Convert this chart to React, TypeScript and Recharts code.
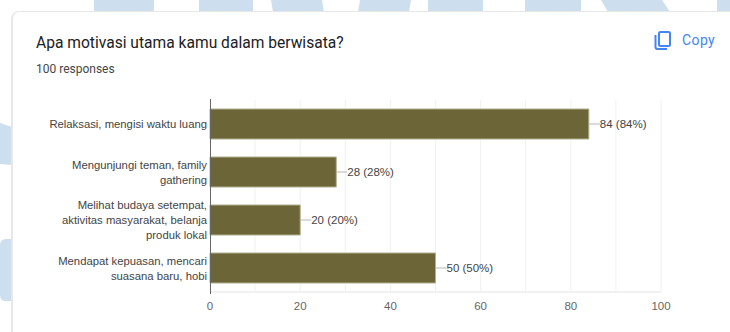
import React from 'react';
import { Bar, BarChart, CartesianGrid, LabelList, XAxis, YAxis } from 'recharts';

const categories = [
  'Relaksasi, mengisi waktu luang',
  'Mengunjungi teman, family\ngathering',
  'Melihat budaya setempat,\naktivitas masyarakat, belanja\nproduk lokal',
  'Mendapat kepuasan, mencari\nsuasana baru, hobi',
];
const counts = [84, 28, 20, 50];
const percents = ['84%', '28%', '20%', '50%'];
const xTicks = [0, 20, 40, 60, 80, 100];
const gridLines = [10, 20, 30, 40, 50, 60, 70, 80, 90, 100];

const data = categories.map((name, i) => ({ name, count: counts[i], label: `${counts[i]} (${percents[i]})` }));

const CHART_FONT = '"Liberation Sans", Arial, sans-serif';
const BLUE = '#cddfee';

const CategoryTick = ({ y, payload }: any) => {
  const lines = String(payload.value).split('\n');
  const startY = y - ((lines.length - 1) * 15) / 2 + 4;
  return (
    <text x={207} y={startY} textAnchor="end" fontSize={11.3} fontFamily={CHART_FONT} fill="#444444">
      {lines.map((line, i) => (
        <tspan key={line} x={207} y={startY + i * 15}>{line}</tspan>
      ))}
    </text>
  );
};

// leader line from the bar end, followed by "count (percent)"
const BarLabel = ({ x, y, width, height, value }: any) => {
  const endX = x + width;
  const midY = y + height / 2;
  return (
    <g>
      <line x1={endX} x2={endX + 11} y1={midY} y2={midY} stroke="#b5b5b5" strokeWidth={1} />
      <text x={endX + 11} y={midY + 4} fontSize={11.5} fontFamily={CHART_FONT} fill="#444444">{value}</text>
    </g>
  );
};

// page backdrop: pale blue shapes showing around the card
const Backdrop = () => (
  <svg width={730} height={332} style={{ position: 'absolute', left: 0, top: 0 }}>
    <g fill={BLUE}>
      <rect x={94} y={0} width={60} height={12} />
      <rect x={199} y={0} width={54} height={12} />
      <polygon points="271,0 322,0 324,12 273,12" />
      <polygon points="360,0 411,0 409,12 358,12" />
      <rect x={428} y={0} width={55} height={12} />
      <rect x={525} y={0} width={56} height={12} />
      <polygon points="601,0 662,0 670,12 608,12" />
      <rect x={717} y={0} width={13} height={12} />
      <polygon points="0,123 12,127 12,165 0,164" />
      <path d="M12,239 H6 Q0,239 0,245 V295 Q0,301 6,301 H12 Z" />
    </g>
  </svg>
);

const CopyButton = () => (
  <div style={{ position: 'absolute', left: 653, top: 30, display: 'flex', alignItems: 'center', color: '#4285f4' }}>
    <svg width={20} height={20} viewBox="0 0 20 20" fill="none" stroke="#4285f4" strokeWidth={2}>
      <rect x={6} y={2} width={11} height={14} rx={1.5} />
      <path d="M2.5,5 V17 Q2.5,19 4.5,19 H14" />
    </svg>
    <span style={{ marginLeft: 9, font: '14px Roboto, sans-serif', letterSpacing: 0.4 }}>Copy</span>
  </div>
);

export default function App() {
  return (
    <div style={{ position: 'absolute', left: 0, top: 0, width: 730, height: 332, overflow: 'hidden', background: '#ffffff' }}>
      <Backdrop />
      <div
        style={{
          position: 'absolute',
          left: 11,
          top: 11,
          width: 740,
          height: 340,
          boxSizing: 'border-box',
          background: '#ffffff',
          border: '2px solid #e7e7e7',
          borderTopWidth: 1,
          borderRadius: 8,
        }}
      />
      <div style={{ position: 'absolute', left: 36, top: 34, font: '15.6px Roboto, sans-serif', color: '#202124', whiteSpace: 'nowrap' }}>
        Apa motivasi utama kamu dalam berwisata?
      </div>
      <div style={{ position: 'absolute', left: 36, top: 62, font: '12px Roboto, sans-serif', color: '#444746', whiteSpace: 'nowrap' }}>
        100 responses
      </div>
      <CopyButton />
      <div style={{ position: 'absolute', left: 0, top: 0 }}>
        <BarChart
          width={730}
          height={332}
          data={data}
          layout="vertical"
          barSize={30}
          margin={{ top: 100, right: 69, bottom: 0, left: 0 }}
        >
          <CartesianGrid horizontal={false} verticalValues={gridLines} stroke="#f1f1f1" />
          <XAxis
            type="number"
            domain={[0, 100]}
            ticks={xTicks}
            height={40}
            tickLine={false}
            axisLine={{ stroke: '#f1f1f1', strokeWidth: 2 }}
            tick={{ fontSize: 11.5, fontFamily: CHART_FONT, fill: '#666666' }}
            tickMargin={4}
            interval={0}
          />
          <YAxis
            type="category"
            dataKey="name"
            width={210}
            tickLine={false}
            axisLine={false}
            tick={<CategoryTick />}
            interval={0}
          />
          <Bar dataKey="count" fill="#6b6537" stroke="#b3b08f" strokeWidth={1} isAnimationActive={false}>
            <LabelList dataKey="label" content={<BarLabel />} />
          </Bar>
        </BarChart>
      </div>
      {/* dark baseline sits above the bars */}
      <div style={{ position: 'absolute', left: 210, top: 99, width: 1, height: 195, background: '#666666' }} />
    </div>
  );
}
